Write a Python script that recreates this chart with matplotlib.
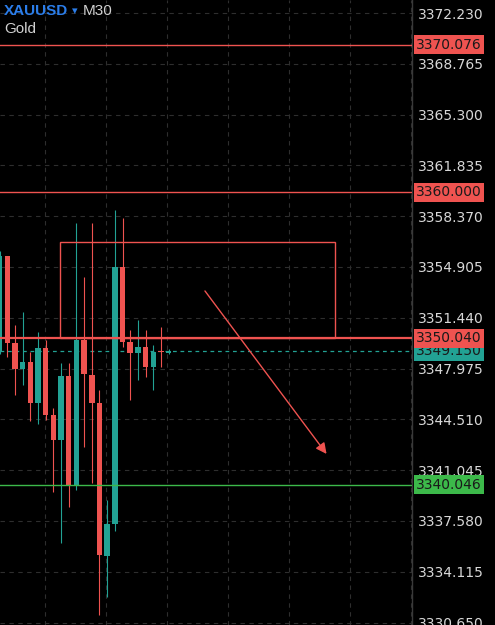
import matplotlib
matplotlib.use('Agg')
import matplotlib.pyplot as plt
from matplotlib.patches import Rectangle
from matplotlib.transforms import blended_transform_factory

# candles (M30), left to right
opens = [3349.11, 3355.65, 3349.72, 3347.95, 3348.42, 3345.63, 3349.38, 3344.81,
         3343.10, 3347.47, 3339.96, 3349.92, 3347.54, 3345.63, 3335.19, 3337.37,
         3354.90, 3349.79, 3349.04, 3349.45, 3348.08, 3349.15, 3349.05]
closes = [3355.65, 3349.72, 3347.95, 3348.42, 3345.63, 3349.38, 3344.81, 3343.10,
          3347.47, 3340.03, 3349.92, 3347.61, 3345.63, 3335.26, 3337.37, 3354.90,
          3349.79, 3349.04, 3349.45, 3348.08, 3349.11, 3349.10, 3349.15]
highs = [3356.00, 3355.65, 3350.95, 3351.83, 3349.11, 3350.47, 3349.92, 3345.29,
         3348.35, 3348.35, 3357.91, 3354.22, 3357.91, 3346.51, 3338.99, 3358.79,
         3358.25, 3350.61, 3351.29, 3350.61, 3349.58, 3350.81, 3349.30]
lows = [3349.00, 3348.77, 3346.17, 3346.85, 3344.40, 3344.19, 3344.47, 3339.56,
        3336.08, 3338.53, 3339.69, 3342.63, 3340.17, 3331.17, 3332.39, 3336.90,
        3349.45, 3345.83, 3347.20, 3347.40, 3346.51, 3348.08, 3349.00]

# price axis ticks
yticks = [3330.650, 3334.115, 3337.580, 3341.045, 3344.510, 3347.975, 3351.440,
          3354.905, 3358.370, 3361.835, 3365.300, 3368.765, 3372.230]
grid_x = [5.87, 13.82, 21.77, 29.73, 37.68, 45.63, 53.59]

# drawn levels
resist_levels = [3370.076, 3360.000, 3350.040]
support_level = 3340.046
last_price = 3349.150
zone_x = [7.87, 43.68]
zone_y = [3350.04, 3356.61]
arrow_from = (26.75, 3353.27)
arrow_to = (42.6, 3342.15)

RED = '#ef5350'
TEAL = '#22a294'
GREEN = '#3cb94a'
BG = '#000000'

fig = plt.figure(figsize=(4.95, 6.25), dpi=100, facecolor=BG)
ax = fig.add_axes([0, 0, 412 / 495, 1])
ax.set_facecolor(BG)

for i, (o, h, l, c) in enumerate(zip(opens, highs, lows, closes)):
    col = TEAL if c >= o else RED
    ax.vlines(i, l, h, color=col, lw=0.8, zorder=3)
    ax.bar(i, max(abs(c - o), 0.08), bottom=min(o, c), width=0.7,
           color=col, edgecolor='none', zorder=4)

ax.set_xlim(0.03, 53.74)
ax.set_ylim(3330.48, 3373.12)

# grid
for gx in grid_x:
    ax.axvline(gx, color='#2e2e2e', lw=0.8, ls=(0, (4, 4)), zorder=1)
for gy in yticks:
    ax.axhline(gy, color='#2e2e2e', lw=0.8, ls=(0, (4, 4)), zorder=1)

# levels
for lv in resist_levels:
    ax.axhline(lv, color=RED, lw=1.0 if lv != 3350.040 else 1.6, zorder=5)
ax.axhline(support_level, color=GREEN, lw=1.0, zorder=5)
ax.axhline(last_price, color=TEAL, lw=0.9, ls=(0, (3, 3)), zorder=2)

ax.add_patch(Rectangle((zone_x[0], zone_y[0]), zone_x[1] - zone_x[0],
                       zone_y[1] - zone_y[0], fill=False, ec=RED, lw=1.0, zorder=5))
ax.annotate('', xy=arrow_to, xytext=arrow_from,
            arrowprops=dict(arrowstyle='-|>', color=RED, lw=1.0,
                            mutation_scale=16, shrinkA=0, shrinkB=0), zorder=6)

# price axis on the right
ax.yaxis.tick_right()
ax.set_yticks(yticks)
ax.set_yticklabels([f'{t:.3f}' for t in yticks])
ax.tick_params(axis='y', length=0, pad=4, labelsize=10, labelcolor='#d8d8d8')
ax.set_xticks([])
for s in ['top', 'left', 'bottom']:
    ax.spines[s].set_visible(False)
ax.spines['right'].set_color('#3a3a3a')
ax.spines['right'].set_linewidth(1.0)

trans = blended_transform_factory(ax.transAxes, ax.transData)
badges = [(last_price, TEAL), (support_level, GREEN)] + [(lv, RED) for lv in resist_levels]
for val, col in badges:
    ax.text(1.01, val, f'{val:.3f}', transform=trans, ha='left', va='center',
            fontsize=10, color='#1a1a1a', clip_on=False, zorder=10,
            bbox=dict(boxstyle='square,pad=0.18', fc=col, ec='none'))

# header
fig.text(4 / 495, 1 - 11 / 625, 'XAUUSD', color='#2b7de9', fontsize=11,
         fontweight='bold', family='Liberation Sans', va='center', ha='left')
fig.text(72 / 495, 1 - 11 / 625, '\u25be', color='#2b7de9', fontsize=8,
         va='center', ha='left')
fig.text(83 / 495, 1 - 11 / 625, 'M30', color='#d0d0d0', fontsize=11,
         family='Liberation Sans', va='center', ha='left')
fig.text(4 / 495, 1 - 29 / 625, 'Gold', color='#d0d0d0', fontsize=11,
         family='Liberation Sans', va='center', ha='left')

fig.savefig('out.png', dpi=100, facecolor=BG)
